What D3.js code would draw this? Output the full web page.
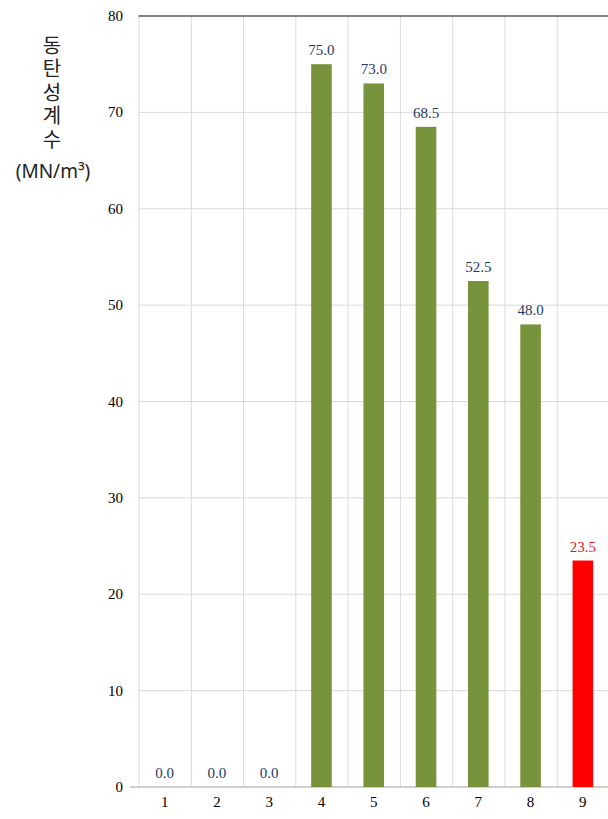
<!DOCTYPE html>
<html>
<head>
<meta charset="utf-8">
<script src="https://cdn.jsdelivr.net/npm/d3@7"></script>
<style>
  html, body { margin: 0; padding: 0; background: #fff; }
  svg { display: block; }
</style>
</head>
<body>
<svg id="chart" width="608" height="819"></svg>
<script>
// Dynamic modulus of subgrade reaction per test point
const categories = ["1", "2", "3", "4", "5", "6", "7", "8", "9"];
const values = [0.0, 0.0, 0.0, 75.0, 73.0, 68.5, 52.5, 48.0, 23.5];
const highlight = [false, false, false, false, false, false, false, false, true];
const yTicks = [0, 10, 20, 30, 40, 50, 60, 70, 80];
const titleText = "동탄성계수";
const titleUnit = "(MN/m³)";

(function () {
const svg = d3.select("#chart");
const plotLeft = 138.5, plotRight = 609, plotTop = 16, plotBottom = 787;

const x = d3.scaleBand().domain(categories).range([plotLeft, plotRight]).paddingInner(0).paddingOuter(0);
const y = d3.scaleLinear().domain([0, 80]).range([plotBottom, plotTop]);

const serif = "'Liberation Serif', 'DejaVu Serif', serif";

// horizontal gridlines
svg.append("g").selectAll("line").data(yTicks.filter(d => d > 0 && d < 80)).join("line")
  .attr("x1", plotLeft).attr("x2", 608)
  .attr("y1", d => y(d)).attr("y2", d => y(d))
  .attr("stroke", "#d9d9d9").attr("stroke-width", 1);

// vertical gridlines between categories
svg.append("g").selectAll("line").data(categories).join("line")
  .attr("x1", d => x(d) + 0.5).attr("x2", d => x(d) + 0.5)
  .attr("y1", plotTop).attr("y2", plotBottom)
  .attr("stroke", "#d9d9d9").attr("stroke-width", 1);

// top border
svg.append("line").attr("x1", plotLeft).attr("x2", 608).attr("y1", y(80)).attr("y2", y(80))
  .attr("stroke", "#595959").attr("stroke-width", 1.3);

// baseline
svg.append("line").attr("x1", 130).attr("x2", 608).attr("y1", y(0)).attr("y2", y(0))
  .attr("stroke", "#bfbfbf").attr("stroke-width", 1.3);

// y tick labels
svg.append("g").selectAll("text").data(yTicks).join("text")
  .attr("x", 123).attr("y", d => y(d) + 5)
  .attr("text-anchor", "end")
  .attr("font-family", serif).attr("font-size", 15).attr("fill", "#000")
  .text(d => d);

// x tick labels
svg.append("g").selectAll("text").data(categories).join("text")
  .attr("x", d => x(d) + x.bandwidth() / 2).attr("y", 807)
  .attr("text-anchor", "middle")
  .attr("font-family", serif).attr("font-size", 15).attr("fill", "#000")
  .text(d => d);

const barW = 20.6;
const data = categories.map((c, i) => ({ c, v: values[i], hi: highlight[i] }));

// bars
svg.append("g").selectAll("rect").data(data.filter(d => d.v > 0)).join("rect")
  .attr("x", d => x(d.c) + x.bandwidth() / 2 - barW / 2)
  .attr("width", barW)
  .attr("y", d => y(d.v))
  .attr("height", d => y(0) - y(d.v))
  .attr("fill", d => d.hi ? "#ff0000" : "#77933c");

// value labels
svg.append("g").selectAll("text").data(data).join("text")
  .attr("x", d => x(d.c) + x.bandwidth() / 2)
  .attr("y", d => y(d.v) - 9)
  .attr("text-anchor", "middle")
  .attr("font-family", serif).attr("font-size", 15)
  .attr("fill", d => d.hi ? "#e0201f" : "#1f3864")
  .text(d => d.v.toFixed(1));

// axis title: upright vertical Korean text plus unit below
svg.append("text")
  .attr("x", 52).attr("y", 35)
  .style("writing-mode", "vertical-rl")
  .style("text-orientation", "upright")
  .attr("letter-spacing", 3.5)
  .attr("font-family", "'Noto Sans CJK KR', sans-serif")
  .attr("font-size", 20).attr("fill", "#222")
  .text(titleText);
svg.append("text").attr("x", 53).attr("y", 178)
  .attr("text-anchor", "middle")
  .attr("font-family", "'Noto Sans', sans-serif").attr("font-size", 19).attr("fill", "#222")
  .text(titleUnit);
})();
</script>
</body>
</html>
